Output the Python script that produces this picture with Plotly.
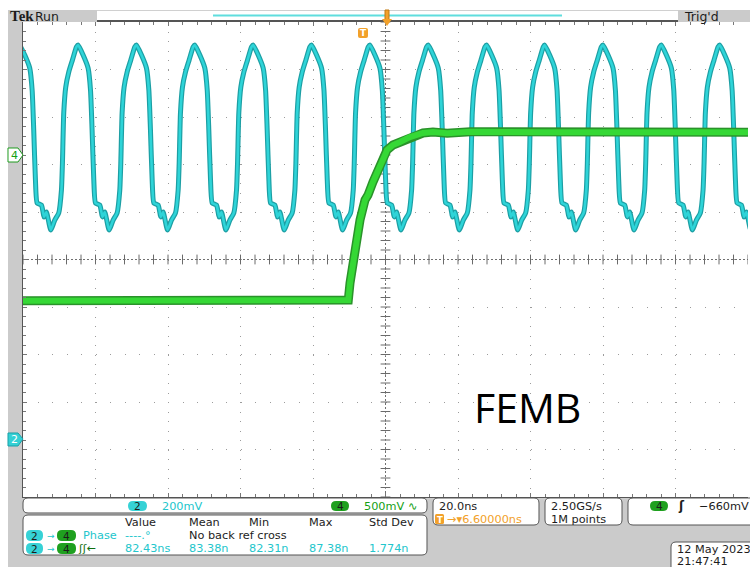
import numpy as np
import plotly.graph_objects as go

# ---------------- data ----------------
# Channel 2 (cyan, 200 mV/div): times of the waveform maxima (ns, trigger = 0)
ch2_peak_t_ns = [-94.3, -78.2, -62.1, -46.0, -29.9, -13.8, 2.3, 18.4, 34.5, 50.5, 66.6, 82.7, 98.8]
# one cycle of the ch2 clock, starting at a maximum (time offset ns, mV)
ch2_cycle_dt_ns = [0, 1.38, 2.76, 3.42, 3.86, 4.33, 4.80, 5.99, 6.73, 7.37, 8.55, 9.66,
                   10.76, 11.50, 11.78, 12.14, 12.69, 13.52, 14.54, 15.64]
ch2_cycle_mv = [1659, 1617, 1562, 1469, 1301, 1091, 994, 985, 935, 956, 880, 922,
                952, 1048, 1162, 1373, 1482, 1545, 1596, 1651]

# Channel 4 (green, 500 mV/div) step
ch4_t_ns = [-93.4, -60.0, -30.0, -3.66, -3.19, -1.81, -0.43, 0.95, 1.77, 3.15, 5.08, 6.46,
            7.01, 8.67, 10.6, 13.36, 16.95, 19.7, 23.6, 30.0, 50.0, 80.0, 106.6]
ch4_mv = [-1535, -1535, -1535, -1526, -1347, -1000, -684, -474, -421, -284, -137, 0,
          53, 105, 137, 189, 232, 242, 230, 245, 240, 240, 240]

ch2_scale_mv, ch4_scale_mv = 200, 500
ch2_pos_div, ch4_pos_div = -3.78, 2.2
h_scale_ns, h_delay_ns = 20.0, 6.6

meas_headers = ["Value", "Mean", "Min", "Max", "Std Dev"]
meas_row1 = ["----.°", "No back ref cross"]
meas_row2 = ["82.43ns", "83.38n", "82.31n", "87.38n", "1.774n"]

# ---------------- build traces ----------------
ch2_t, ch2_v = [], []
for p in ch2_peak_t_ns:
    for dt, mv in zip(ch2_cycle_dt_ns, ch2_cycle_mv):
        ch2_t.append(p + dt)
        ch2_v.append(mv / ch2_scale_mv + ch2_pos_div)
ch4_v = [mv / ch4_scale_mv + ch4_pos_div for mv in ch4_mv]

x0 = h_delay_ns - 5 * h_scale_ns
x1 = h_delay_ns + 5 * h_scale_ns

L, T, W, H = 23, 22, 725, 475
B = T + H
FW, FH = 750, 567


def px(X):
    return (X - L) / W


def py(Y):
    return (B - Y) / H


def path_px(pts, close=True):
    s = "M " + " L ".join(f"{px(a):.5f},{py(b):.5f}" for a, b in pts)
    return s + (" Z" if close else "")


def rrect_path(xa, ya, xb, yb, r):
    def P(a, b):
        return f"{px(a):.5f},{py(b):.5f}"
    return (f"M {P(xa + r, ya)} L {P(xb - r, ya)} Q {P(xb, ya)} {P(xb, ya + r)} "
            f"L {P(xb, yb - r)} Q {P(xb, yb)} {P(xb - r, yb)} L {P(xa + r, yb)} "
            f"Q {P(xa, yb)} {P(xa, yb - r)} L {P(xa, ya + r)} Q {P(xa, ya)} {P(xa + r, ya)} Z")


fig = go.Figure()

# crosshair tick marks
ht = np.arange(x0, x1 + 0.01, h_scale_ns / 5)
vt = np.arange(-5, 5.01, 0.2)
fig.add_trace(go.Scatter(x=ht, y=[0] * len(ht), mode="markers", hoverinfo="skip",
                         marker=dict(symbol="line-ns", size=7, line=dict(width=1, color="#6a6a6a"))))
fig.add_trace(go.Scatter(x=[h_delay_ns] * len(vt), y=vt, mode="markers", hoverinfo="skip",
                         marker=dict(symbol="line-ew", size=7, line=dict(width=1, color="#6a6a6a"))))

CYAN_D, CYAN = "#1d9fa4", "#2ed4d8"
GREEN_D, GREEN = "#2a922a", "#35d835"
fig.add_trace(go.Scatter(x=ch2_t, y=ch2_v, mode="lines", line=dict(color=CYAN_D, width=5, shape="spline", smoothing=0.5),
                         hoverinfo="skip"))
fig.add_trace(go.Scatter(x=ch2_t, y=ch2_v, mode="lines", line=dict(color=CYAN, width=2.6, shape="spline", smoothing=0.5),
                         hoverinfo="skip"))
fig.add_trace(go.Scatter(x=ch4_t_ns, y=ch4_v, mode="lines", line=dict(color=GREEN_D, width=9), hoverinfo="skip"))
fig.add_trace(go.Scatter(x=ch4_t_ns, y=ch4_v, mode="lines", line=dict(color=GREEN, width=6), hoverinfo="skip"))

shapes = []
# crosshair
shapes.append(dict(type="line", xref="x", yref="y", x0=h_delay_ns, x1=h_delay_ns, y0=-5, y1=5,
                   line=dict(color="#707070", width=1, dash="2px,2px"), layer="below"))
shapes.append(dict(type="line", xref="x", yref="y", x0=x0, x1=x1, y0=0, y1=0,
                   line=dict(color="#707070", width=1, dash="2px,2px"), layer="below"))

GRAY = "#cbcbcb"
# gray panels
shapes.append(dict(type="rect", xref="paper", yref="paper", x0=px(8), x1=px(22), y0=py(FH), y1=py(10),
                   fillcolor=GRAY, line=dict(width=0)))
shapes.append(dict(type="rect", xref="paper", yref="paper", x0=px(8), x1=px(FW + 5), y0=py(FH + 5), y1=py(498),
                   fillcolor=GRAY, line=dict(width=0)))
shapes.append(dict(type="rect", xref="paper", yref="paper", x0=px(8), x1=px(97), y0=py(22), y1=py(10),
                   fillcolor=GRAY, line=dict(width=0)))
shapes.append(dict(type="rect", xref="paper", yref="paper", x0=px(678), x1=px(FW + 5), y0=py(22), y1=py(10),
                   fillcolor=GRAY, line=dict(width=0)))
shapes.append(dict(type="line", xref="paper", yref="paper", x0=px(97), x1=px(678), y0=py(10.5), y1=py(10.5),
                   line=dict(color="#d0d0d0", width=1)))
# record view bar
shapes.append(dict(type="line", xref="paper", yref="paper", x0=px(213), x1=px(562), y0=py(15.5), y1=py(15.5),
                   line=dict(color="#5fdede", width=2)))
# trigger position marker
ORANGE = "#f2a12a"
shapes.append(dict(type="rect", xref="paper", yref="paper", x0=px(385), x1=px(389), y0=py(20), y1=py(10),
                   fillcolor=ORANGE, line=dict(color="#c07810", width=1)))
shapes.append(dict(type="path", xref="paper", yref="paper", path=path_px([(382, 19), (392, 19), (387, 26)]),
                   fillcolor=ORANGE, line=dict(width=0)))
shapes.append(dict(type="path", xref="paper", yref="paper", path=rrect_path(358, 28, 368, 38, 2),
                   fillcolor=ORANGE, line=dict(width=0)))
# left channel markers
shapes.append(dict(type="path", xref="paper", yref="paper",
                   path=path_px([(8, 148), (18, 148), (23, 155), (18, 162), (8, 162)]),
                   fillcolor="white", line=dict(color="#1f9a1f", width=1)))
shapes.append(dict(type="path", xref="paper", yref="paper",
                   path=path_px([(8, 433), (18, 433), (23, 439), (18, 446), (8, 446)]),
                   fillcolor="#33d0d4", line=dict(color="#1aa0a8", width=1)))
# info boxes
for (a, b, c, d) in [(23, 498, 427, 513), (23, 515, 427, 555), (433, 498, 539, 525),
                     (545, 498, 622, 525), (628, 498, 760, 525), (671, 542, 760, 572)]:
    shapes.append(dict(type="path", xref="paper", yref="paper", path=rrect_path(a, b, c, d, 5),
                       fillcolor="white", line=dict(color="#555555", width=1)))
# badges
def pill(a, b, c, d, col):
    shapes.append(dict(type="path", xref="paper", yref="paper", path=rrect_path(a, b, c, d, 5),
                       fillcolor=col, line=dict(width=0)))


BCY, BGR = "#36d2d6", "#1fa01f"
pill(128, 501, 147, 511, BCY)
pill(331, 501, 349, 511, BGR)
pill(26, 530, 43, 541, BCY)
pill(57, 530, 76, 541, BGR)
pill(26, 543, 43, 554, BCY)
pill(57, 543, 76, 554, BGR)
pill(650, 501, 668, 511, BGR)
shapes.append(dict(type="path", xref="paper", yref="paper", path=rrect_path(435, 514, 444, 524, 1.5),
                   fillcolor=ORANGE, line=dict(width=0)))

anns = []
FONT = "DejaVu Sans"
DARK = "#1c1c1c"
CYT = "#22c6cc"
GRT = "#15a015"


def txt(X, Y, s, color=DARK, size=11.3, anchor="left", family=FONT, bold=False):
    if bold:
        s = f"<b>{s}</b>"
    anns.append(dict(x=px(X), y=py(Y), xref="paper", yref="paper", text=s, showarrow=False,
                     xanchor=anchor, yanchor="middle", font=dict(family=family, size=size, color=color)))


txt(8, 15.5, "Tek", size=15, bold=True, family="Liberation Serif")
txt(33, 16, "Run", size=12.5)
txt(682, 16, "Trig'd", size=12.5)
txt(363, 33, "T", color="white", size=9, anchor="center", bold=True)
txt(14, 155, "4", color=GRT, size=11, anchor="center")
txt(14, 439.5, "2", color="white", size=11, anchor="center")

txt(137.5, 506, "2", size=10.5, anchor="center")
txt(160, 506, "200mV", color=CYT)
txt(340, 506, "4", size=10.5, anchor="center")
txt(362, 506, "500mV ∿", color=GRT)

for hx, s in zip([123, 187, 247, 307, 367], meas_headers):
    txt(hx, 522, s)
for yy in (535.5, 548.5):
    txt(34.5, yy, "2", size=10.5, anchor="center")
    txt(45, yy, "→", color=CYT, size=9)
    txt(66.5, yy, "4", size=10.5, anchor="center")
txt(81, 535.5, "Phase", color=CYT)
txt(123, 535.5, meas_row1[0], color=CYT)
txt(187, 535.5, meas_row1[1])
txt(76, 548.5, "ʃʃ←", color="#0e6e0e", size=11)
for hx, s in zip([123, 187, 247, 307, 367], meas_row2):
    txt(hx, 548.5, s, color=CYT)

txt(437, 506, "20.0ns")
txt(439.5, 519.5, "T", color="white", size=8.5, anchor="center", bold=True)
txt(445, 519.5, "→▾6.60000ns", color=ORANGE)
txt(549, 506, "2.50GS/s")
txt(549, 519.5, "1M points")
txt(659, 506, "4", size=10.5, anchor="center")
txt(676, 506, "ʃ", size=12, bold=True)
txt(697, 506, "−660mV")
txt(675, 549, "12 May 2023")
txt(675, 561.5, "21:47:41")

txt(527, 407, "FEMB", color="black", size=41, anchor="center", family="Open Sans")

axis_common = dict(showticklabels=False, zeroline=False, showline=True, linecolor="#555555",
                   linewidth=2, ticks="inside", ticklen=4, tickcolor="#777777", fixedrange=True)
fig.update_layout(
    width=FW, height=FH,
    margin=dict(l=L, r=FW - L - W, t=T, b=FH - B, pad=0),
    paper_bgcolor="white", plot_bgcolor="white",
    showlegend=False,
    shapes=shapes, annotations=anns,
    xaxis=dict(range=[x0, x1], tick0=x0, dtick=h_scale_ns, showgrid=True, gridcolor="#9c9c9c",
               griddash="1px,8.5px", gridwidth=1, mirror="ticks",
               minor=dict(ticks="inside", ticklen=3, dtick=h_scale_ns / 5, tick0=x0, tickcolor="#777777",
                          showgrid=False),
               **axis_common),
    yaxis=dict(range=[-5, 5], tick0=0, dtick=1, showgrid=True, gridcolor="#9c9c9c",
               griddash="1px,13.5px", gridwidth=1, mirror=False,
               minor=dict(ticks="inside", ticklen=3, dtick=0.2, tick0=0, tickcolor="#777777",
                          showgrid=False),
               **axis_common),
)

fig.write_html("out.html", config={"displayModeBar": False},
               post_script="document.body.style.margin='0';document.body.style.overflow='hidden';")
